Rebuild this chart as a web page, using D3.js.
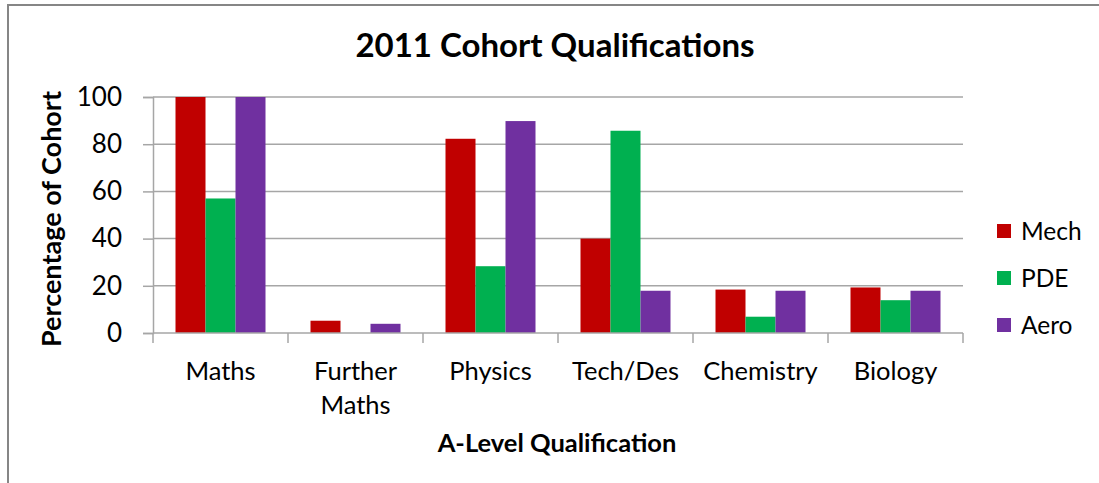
<!DOCTYPE html>
<html>
<head>
<meta charset="utf-8">
<script src="https://cdn.jsdelivr.net/npm/d3@7"></script>
<style>
  html, body { margin: 0; padding: 0; background: #fff; }
  svg text { font-family: Lato, "Open Sans", sans-serif; fill: #000; }
</style>
</head>
<body>
<svg id="chart"></svg>
<script>
const categories = ["Maths", "Further Maths", "Physics", "Tech/Des", "Chemistry", "Biology"];
const seriesNames = ["Mech", "PDE", "Aero"];
const mech = [100, 5.2, 82.3, 40, 18.4, 19.3];
const pde = [57, 0, 28.3, 85.7, 6.9, 13.9];
const aero = [100, 3.9, 89.8, 17.9, 17.9, 17.9];
const yTicks = [0, 20, 40, 60, 80, 100];
const colors = ["#C00000", "#00B050", "#7030A0"];

const width = 1099, height = 483;
const margin = { left: 153, right: 136, top: 97, bottom: 150 };

const svg = d3.select("#chart")
    .attr("width", width)
    .attr("height", height);

// outer chart border
svg.append("path")
    .attr("d", `M8,${height} L8,5 L${width},5`)
    .attr("fill", "none")
    .attr("stroke", "#868686")
    .attr("stroke-width", 2);

const x = d3.scaleBand()
    .domain(categories)
    .range([margin.left, width - margin.right])
    .paddingInner(1 / 3)
    .paddingOuter(1 / 6);

const xInner = d3.scaleBand()
    .domain(seriesNames)
    .range([0, x.bandwidth()]);

const y = d3.scaleLinear()
    .domain([0, 100])
    .range([height - margin.bottom, margin.top]);

// gridlines
svg.append("g")
    .selectAll("line")
    .data(yTicks.filter(d => d > 0))
    .join("line")
    .attr("x1", margin.left)
    .attr("x2", width - margin.right)
    .attr("y1", d => y(d))
    .attr("y2", d => y(d))
    .attr("stroke", "#a6a6a6")
    .attr("stroke-width", 1.5);

// bars
const rows = categories.map((c, i) => ({ cat: c, vals: [mech[i], pde[i], aero[i]] }));
svg.append("g")
    .selectAll("g")
    .data(rows)
    .join("g")
    .attr("transform", d => `translate(${x(d.cat)},0)`)
    .selectAll("rect")
    .data(d => d.vals.map((v, j) => ({ s: seriesNames[j], v, j })))
    .join("rect")
    .attr("x", d => xInner(d.s))
    .attr("width", xInner.bandwidth())
    .attr("y", d => y(d.v))
    .attr("height", d => y(0) - y(d.v))
    .attr("fill", d => colors[d.j]);

// y axis
const yAxis = svg.append("g")
    .attr("transform", `translate(${margin.left},0)`)
    .call(d3.axisLeft(y).tickValues(yTicks).tickSize(10).tickPadding(21));
yAxis.select(".domain").attr("stroke", "#a6a6a6").attr("stroke-width", 1.5);
yAxis.selectAll(".tick line").attr("stroke", "#a6a6a6").attr("stroke-width", 1.5);
yAxis.selectAll(".tick text").attr("font-size", 26).attr("font-family", "Lato");

// x axis
const xStep = x.step();
const xEdges = d3.range(categories.length + 1).map(i => margin.left + i * xStep);
const xAxisG = svg.append("g");
xAxisG.append("line")
    .attr("x1", margin.left).attr("x2", width - margin.right)
    .attr("y1", y(0)).attr("y2", y(0))
    .attr("stroke", "#a6a6a6").attr("stroke-width", 1.5);
xAxisG.selectAll(".xt")
    .data(xEdges)
    .join("line")
    .attr("class", "xt")
    .attr("x1", d => d).attr("x2", d => d)
    .attr("y1", y(0)).attr("y2", y(0) + 10)
    .attr("stroke", "#a6a6a6").attr("stroke-width", 1.5);

const xLabels = svg.append("g")
    .selectAll("text")
    .data(categories)
    .join("text")
    .attr("x", d => x(d) + x.bandwidth() / 2)
    .attr("y", 380)
    .attr("text-anchor", "middle")
    .attr("font-size", 25.5);
xLabels.each(function(d) {
    const t = d3.select(this);
    const words = d === "Further Maths" ? ["Further", "Maths"] : [d];
    words.forEach((w, i) => {
        t.append("tspan")
            .attr("x", x(d) + x.bandwidth() / 2)
            .attr("dy", i === 0 ? 0 : 34)
            .text(w);
    });
});

// title
svg.append("text")
    .attr("x", 555)
    .attr("y", 57)
    .attr("text-anchor", "middle")
    .attr("font-size", 33)
    .attr("font-weight", "bold")
    .text("2011 Cohort Qualifications");

// axis titles
svg.append("text")
    .attr("transform", `translate(61,219) rotate(-90)`)
    .attr("text-anchor", "middle")
    .attr("font-size", 27)
    .attr("font-weight", "bold")
    .text("Percentage of Cohort");

svg.append("text")
    .attr("x", 557)
    .attr("y", 452)
    .attr("text-anchor", "middle")
    .attr("font-size", 25.5)
    .attr("font-weight", "bold")
    .text("A-Level Qualification");

// legend
const legend = svg.append("g")
    .selectAll("g")
    .data(seriesNames)
    .join("g")
    .attr("transform", (d, i) => `translate(997,${231 + i * 47})`);
legend.append("rect")
    .attr("x", 0).attr("y", -7)
    .attr("width", 14).attr("height", 14)
    .attr("fill", (d, i) => colors[i]);
legend.append("text")
    .attr("x", 24)
    .attr("y", 9)
    .attr("font-size", 24.5)
    .text(d => d);
</script>
</body>
</html>
